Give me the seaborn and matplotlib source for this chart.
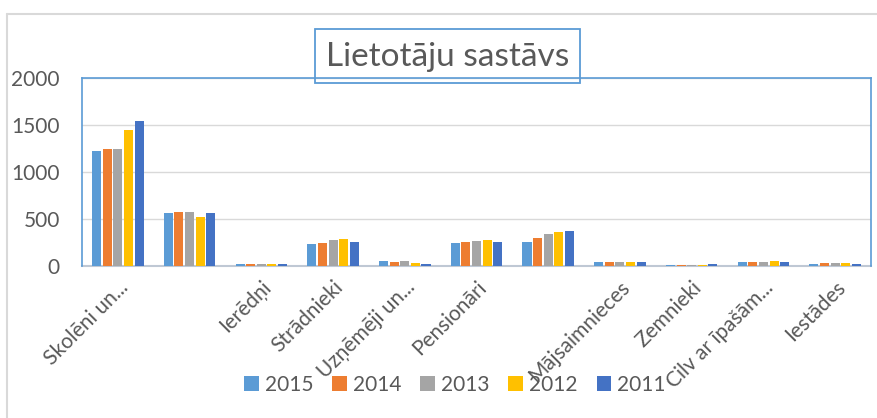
import matplotlib
matplotlib.use("Agg")
import matplotlib.pyplot as plt
import seaborn as sns
import pandas as pd
from matplotlib.patches import Rectangle
from matplotlib.lines import Line2D

categories = ["Skolēni un...", "", "Ierēdņi", "Strādnieki", "Uzņēmēji un...",
              "Pensionāri", " ", "Mājsaimnieces", "Zemnieki", "Cilv ar īpašām...", "Iestādes"]
years = ["2015", "2014", "2013", "2012", "2011"]
v2015 = [1220, 560, 18, 230, 57, 248, 255, 45, 15, 45, 25]
v2014 = [1245, 577, 17, 244, 46, 255, 301, 38, 10, 45, 32]
v2013 = [1245, 577, 16, 273, 50, 269, 340, 38, 8, 45, 32]
v2012 = [1450, 520, 17, 283, 35, 272, 358, 45, 10, 50, 32]
v2011 = [1540, 567, 18, 255, 25, 255, 368, 38, 18, 45, 25]
colors = ["#5B9BD5", "#ED7D31", "#A5A5A5", "#FFC000", "#4472C4"]
yticks = [0, 500, 1000, 1500, 2000]
title = "Lietotāju sastāvs"

rows = []
for y, vals in zip(years, [v2015, v2014, v2013, v2012, v2011]):
    for c, v in zip(categories, vals):
        rows.append({"cat": c, "year": y, "value": v})
df = pd.DataFrame(rows)

sns.set_theme(style="white")
plt.rcParams["font.family"] = ["Lato", "DejaVu Sans"]
txt = "#595959"

fig = plt.figure(figsize=(8.78, 4.18), dpi=100)
ax = fig.add_axes([82/878, 1-266/418, (871-82)/878, (266-78)/418])
sns.barplot(data=df, x="cat", y="value", hue="year", hue_order=years,
            order=categories, palette=colors, saturation=1, width=0.74, gap=0.15,
            linewidth=0, ax=ax, legend=True, zorder=3)
ax.set_xlim(-0.5, len(categories) - 0.5)
ax.set_ylim(0, 2000)
ax.set_yticks(yticks)
ax.set_yticklabels([str(t) for t in yticks])
ax.yaxis.grid(True, color="#D9D9D9", linewidth=1)
ax.set_axisbelow(True)
ax.set_xlabel("")
ax.set_ylabel("")
for s in ["left", "top", "right"]:
    ax.spines[s].set_color("#5B9BD5")
    ax.spines[s].set_linewidth(1.2)
ax.spines["bottom"].set_color("#BFC8D4")
ax.spines["bottom"].set_linewidth(1.5)
ax.spines["bottom"].set_zorder(2)
ax.tick_params(axis="y", length=0, pad=16, labelsize=15, labelcolor=txt)
ax.tick_params(axis="x", length=0, pad=8, labelsize=15, labelcolor=txt)
plt.setp(ax.get_xticklabels(), rotation=45, ha="right", rotation_mode="anchor")

h, l = ax.get_legend_handles_labels()
ax.legend(h, l, loc="center", bbox_to_anchor=(455/878, 1-385/418),
          bbox_transform=fig.transFigure, ncol=5, frameon=False,
          fontsize=15, labelcolor=txt, handlelength=0.7, handleheight=0.7,
          handletextpad=0.3, columnspacing=0.9)

# title with box
fig.text((315+580)/2/878, 1-57/418, title, ha="center", va="center",
         fontsize=24, color=txt)
fig.patches.append(Rectangle((315/878, 1-83/418), (580-315)/878, (83-29)/418,
                             transform=fig.transFigure, fill=False,
                             edgecolor="#5B9BD5", linewidth=1.3, zorder=5))
# outer chart frame
fig.lines.append(Line2D([7/878, 7/878], [0, 1-14/418], transform=fig.transFigure,
                        color="#D9D9D9", linewidth=1.5))
fig.lines.append(Line2D([7/878, 1], [1-14/418, 1-14/418], transform=fig.transFigure,
                        color="#D9D9D9", linewidth=1.5))

fig.savefig("out.png", dpi=100)
